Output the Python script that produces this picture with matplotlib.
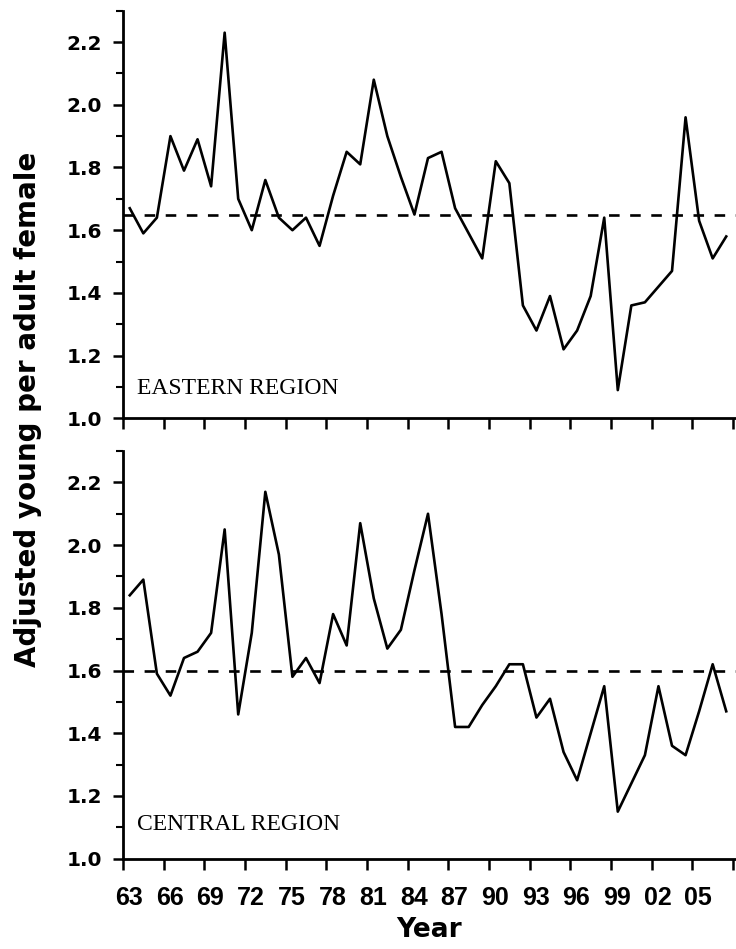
import numpy as np
import matplotlib
matplotlib.use("Agg")
import matplotlib.pyplot as plt
import matplotlib.transforms as mtransforms

years = list(range(1963, 2008))

eastern = [1.67, 1.59, 1.64, 1.90, 1.79, 1.89, 1.74, 2.23, 1.70, 1.60,
           1.76, 1.64, 1.60, 1.64, 1.55, 1.71, 1.85, 1.81, 2.08, 1.90,
           1.77, 1.65, 1.83, 1.85, 1.67, 1.59, 1.51, 1.82, 1.75, 1.36,
           1.28, 1.39, 1.22, 1.28, 1.39, 1.64, 1.09, 1.36, 1.37, 1.42,
           1.47, 1.96, 1.63, 1.51, 1.58]

central = [1.84, 1.89, 1.59, 1.52, 1.64, 1.66, 1.72, 2.05, 1.46, 1.72,
           2.17, 1.97, 1.58, 1.64, 1.56, 1.78, 1.68, 2.07, 1.83, 1.67,
           1.73, 1.92, 2.10, 1.78, 1.42, 1.42, 1.49, 1.55, 1.62, 1.62,
           1.45, 1.51, 1.34, 1.25, 1.40, 1.55, 1.15, 1.24, 1.33, 1.55,
           1.36, 1.33, 1.47, 1.62, 1.47]

eastern_mean = 1.65
central_mean = 1.60

tick_years = list(range(1963, 2009, 3))
tick_labels = ['63', '66', '69', '72', '75', '78', '81', '84', '87', '90',
               '93', '96', '99', '02', '05', '']

fig = plt.figure(figsize=(7.36, 9.49), dpi=100)
ax1 = fig.add_axes([0.1671, 0.5592, 0.8329, 0.4295])
ax2 = fig.add_axes([0.1671, 0.0952, 0.8329, 0.4295])

panels = [(ax1, eastern, eastern_mean, 'EASTERN REGION', 0.060),
          (ax2, central, central_mean, 'CENTRAL REGION', 0.070)]

for ax, vals, mean, name, ty in panels:
    ax.plot(years, vals, color='black', linewidth=1.9)
    ax.axhline(mean, color='black', linewidth=1.9, linestyle=(0, (4, 4)))

    ax.set_xlim(1962.5, 2007.72)
    ax.set_ylim(1.0, 2.3)
    ax.set_xticks([y - 0.5 for y in tick_years])
    ax.set_yticks(np.arange(1.0, 2.21, 0.2))
    ax.set_yticks(np.arange(1.0, 2.31, 0.1), minor=True)
    ax.set_yticklabels(['%.1f' % v for v in np.arange(1.0, 2.21, 0.2)],
                       fontsize=14.5, fontweight='bold', family='DejaVu Sans')

    for s in ['top', 'right']:
        ax.spines[s].set_visible(False)
    for s in ['left', 'bottom']:
        ax.spines[s].set_linewidth(2.0)

    ax.tick_params(axis='y', which='major', direction='out', length=7, width=1.8, pad=8)
    ax.tick_params(axis='y', which='minor', direction='out', length=5, width=1.5)
    ax.tick_params(axis='x', which='major', direction='out', length=8, width=1.8, pad=12)

    ax.text(0.0224, ty, name, transform=ax.transAxes, fontsize=17,
            family='Liberation Serif', va='baseline', ha='left')

ax1.set_xticklabels([])
ax2.set_xticklabels(tick_labels, fontsize=18, fontweight='bold',
                    family='Liberation Sans')
offset = mtransforms.ScaledTranslation(0.06, 0, fig.dpi_scale_trans)
for lab in ax2.get_xticklabels():
    lab.set_transform(lab.get_transform() + offset)

ax2.set_xlabel('Year', fontsize=19, fontweight='bold', labelpad=5)

fig.text(0.038, 1 - 409 / 949, 'Adjusted young per adult female',
         rotation=90, fontsize=20, fontweight='bold', ha='center', va='center')

fig.savefig('out.png', dpi=100)
